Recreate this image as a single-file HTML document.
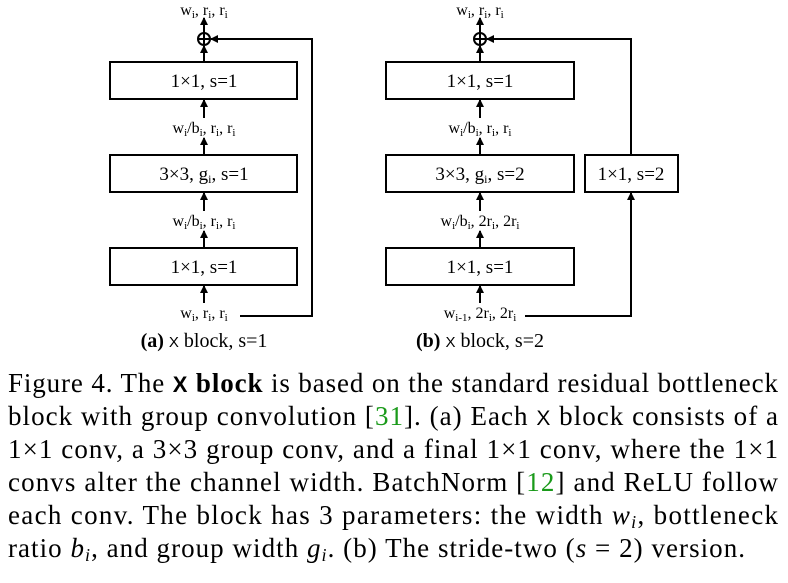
<!DOCTYPE html>
<html><head><style>body{margin:0;background:#fff}svg{display:block}svg text{font-family:"Liberation Serif","Noto Serif CJK SC",serif}svg text .sf{font-family:"Liberation Sans","DejaVu Sans",sans-serif}</style></head><body>
<svg width="788" height="583" xmlns="http://www.w3.org/2000/svg" fill="#000">
<defs><marker id="a" markerWidth="8" markerHeight="8" refX="7" refY="4" orient="auto" markerUnits="userSpaceOnUse"><path d="M0,0 L8,4 L0,8 z"/></marker></defs>
<g stroke="#000" stroke-width="2" fill="none">
<rect x="110" y="62" width="187" height="37"/><rect x="110" y="155" width="187" height="37"/><rect x="110" y="248" width="187" height="37"/>
<rect x="386" y="62" width="188" height="37"/><rect x="386" y="155" width="188" height="37"/><rect x="386" y="248" width="188" height="37"/>
<rect x="585" y="155" width="93" height="37"/>
<circle cx="204" cy="39" r="6"/><line x1="198" y1="39" x2="210" y2="39"/><line x1="204" y1="33" x2="204" y2="45"/>
<circle cx="480" cy="39" r="6"/><line x1="474" y1="39" x2="486" y2="39"/><line x1="480" y1="33" x2="480" y2="45"/>
<g marker-end="url(#a)">
<line x1="204" y1="62" x2="204" y2="46"/><line x1="204" y1="33" x2="204" y2="18"/>
<line x1="204" y1="118" x2="204" y2="100"/><line x1="204" y1="155" x2="204" y2="138"/>
<line x1="204" y1="211" x2="204" y2="193"/><line x1="204" y1="248" x2="204" y2="231"/>
<line x1="204" y1="303" x2="204" y2="286"/>
<polyline points="240,316 312,316 312,39 211,39"/>
<line x1="480" y1="62" x2="480" y2="46"/><line x1="480" y1="33" x2="480" y2="18"/>
<line x1="480" y1="118" x2="480" y2="100"/><line x1="480" y1="155" x2="480" y2="138"/>
<line x1="480" y1="211" x2="480" y2="193"/><line x1="480" y1="248" x2="480" y2="231"/>
<line x1="480" y1="303" x2="480" y2="286"/>
<polyline points="525,316 631,316 631,193"/>
<polyline points="631,155 631,39 487,39"/>
</g></g>
<g font-size="19" text-anchor="middle">
<text x="204" y="87">1×1, s=1</text><text x="204" y="180">3×3, g<tspan font-size="12" dy="3">i</tspan><tspan dy="-3">, s=1</tspan></text><text x="204" y="273">1×1, s=1</text>
<text x="480" y="87">1×1, s=1</text><text x="480" y="180">3×3, g<tspan font-size="12" dy="3">i</tspan><tspan dy="-3">, s=2</tspan></text><text x="480" y="273">1×1, s=1</text>
<text x="631" y="180">1×1, s=2</text>
</g>
<g font-size="16" text-anchor="middle">
<text x="204" y="15">w<tspan font-size="11" dy="3">i</tspan><tspan dy="-3">, r</tspan><tspan font-size="11" dy="3">i</tspan><tspan dy="-3">, r</tspan><tspan font-size="11" dy="3">i</tspan></text>
<text x="204" y="133">w<tspan font-size="11" dy="3">i</tspan><tspan dy="-3">/b</tspan><tspan font-size="11" dy="3">i</tspan><tspan dy="-3">, r</tspan><tspan font-size="11" dy="3">i</tspan><tspan dy="-3">, r</tspan><tspan font-size="11" dy="3">i</tspan></text>
<text x="204" y="226">w<tspan font-size="11" dy="3">i</tspan><tspan dy="-3">/b</tspan><tspan font-size="11" dy="3">i</tspan><tspan dy="-3">, r</tspan><tspan font-size="11" dy="3">i</tspan><tspan dy="-3">, r</tspan><tspan font-size="11" dy="3">i</tspan></text>
<text x="204" y="318">w<tspan font-size="11" dy="3">i</tspan><tspan dy="-3">, r</tspan><tspan font-size="11" dy="3">i</tspan><tspan dy="-3">, r</tspan><tspan font-size="11" dy="3">i</tspan></text>
<text x="480" y="15">w<tspan font-size="11" dy="3">i</tspan><tspan dy="-3">, r</tspan><tspan font-size="11" dy="3">i</tspan><tspan dy="-3">, r</tspan><tspan font-size="11" dy="3">i</tspan></text>
<text x="480" y="133">w<tspan font-size="11" dy="3">i</tspan><tspan dy="-3">/b</tspan><tspan font-size="11" dy="3">i</tspan><tspan dy="-3">, r</tspan><tspan font-size="11" dy="3">i</tspan><tspan dy="-3">, r</tspan><tspan font-size="11" dy="3">i</tspan></text>
<text x="480" y="226">w<tspan font-size="11" dy="3">i</tspan><tspan dy="-3">/b</tspan><tspan font-size="11" dy="3">i</tspan><tspan dy="-3">, 2r</tspan><tspan font-size="11" dy="3">i</tspan><tspan dy="-3">, 2r</tspan><tspan font-size="11" dy="3">i</tspan></text>
<text x="480" y="318">w<tspan font-size="11" dy="3">i-1</tspan><tspan dy="-3">, 2r</tspan><tspan font-size="11" dy="3">i</tspan><tspan dy="-3">, 2r</tspan><tspan font-size="11" dy="3">i</tspan></text>
</g>
<g font-size="20" text-anchor="middle">
<text x="204" y="347"><tspan font-weight="bold">(a)</tspan> <tspan class="sf" font-size="15">X</tspan> block, s=1</text>
<text x="480" y="347"><tspan font-weight="bold">(b)</tspan> <tspan class="sf" font-size="15">X</tspan> block, s=2</text>
</g>
<g font-size="27">
<text x="8" y="392" textLength="770" lengthAdjust="spacing">Figure 4. The <tspan class="sf" font-weight="bold" font-size="22">X</tspan><tspan font-weight="bold"> block</tspan> is based on the standard residual bottleneck</text>
<text x="8" y="425" textLength="770" lengthAdjust="spacing">block with group convolution [<tspan fill="#1a9a1a">31</tspan>]. (a) Each <tspan class="sf" font-size="21">X</tspan> block consists of a</text>
<text x="8" y="458" textLength="770" lengthAdjust="spacing">1×1 conv, a 3×3 group conv, and a final 1×1 conv, where the 1×1</text>
<text x="8" y="491" textLength="770" lengthAdjust="spacing">convs alter the channel width. BatchNorm [<tspan fill="#1a9a1a">12</tspan>] and ReLU follow</text>
<text x="8" y="524" textLength="770" lengthAdjust="spacing">each conv. The block has 3 parameters: the width <tspan font-style="italic">w</tspan><tspan font-style="italic" font-size="18" dy="4">i</tspan><tspan dy="-4">, bottleneck</tspan></text>
<text x="8" y="557" textLength="737" lengthAdjust="spacing">ratio <tspan font-style="italic">b</tspan><tspan font-style="italic" font-size="18" dy="4">i</tspan><tspan dy="-4">, and group width </tspan><tspan font-style="italic">g</tspan><tspan font-style="italic" font-size="18" dy="4">i</tspan><tspan dy="-4">. (b) The stride-two (</tspan><tspan font-style="italic">s</tspan> = 2) version.</text>
</g>
</svg>
</body></html>
